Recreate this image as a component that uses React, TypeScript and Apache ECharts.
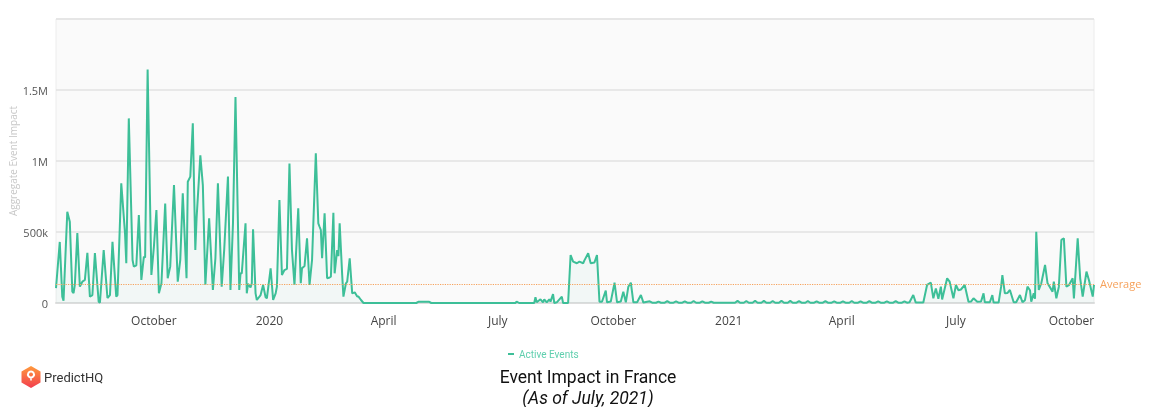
import React, { useEffect, useRef } from "react";
import * as echarts from "echarts";

// [day offset from 2019-07-15, aggregate event impact in thousands]
const busy2019: [number, number][] = [
  [0, 105], [3, 430], [5, 45], [6, 16], [9, 643], [11, 572], [13, 80], [14, 70], [15, 127], [17, 493],
  [19, 115], [21, 150], [23, 162], [25, 354], [27, 45], [29, 56], [31, 352], [34, 9], [35, 2], [38, 373],
  [41, 35], [43, 56], [45, 431], [48, 45], [49, 56], [52, 843], [55, 490], [56, 280], [58, 1300], [61, 303],
  [62, 256], [64, 265], [66, 620], [68, 162], [70, 326], [71, 320], [73, 1645], [76, 197], [78, 396], [80, 655],
  [82, 68], [84, 139], [87, 700], [89, 174], [91, 256], [94, 831], [97, 150], [99, 303], [101, 772], [104, 174],
  [105, 854], [107, 890], [109, 1265], [111, 373], [112, 597], [115, 1040], [117, 830], [119, 127], [122, 597], [125, 92],
  [127, 315], [129, 843], [132, 115], [134, 373], [137, 890], [139, 92], [141, 561], [143, 1450], [146, 92], [147, 209],
  [148, 209], [151, 561], [152, 68], [153, 135], [155, 110], [156, 139], [157, 519], [159, 68], [160, 21], [163, 56],
  [165, 127], [167, 40], [168, 33], [171, 244], [173, 21], [175, 68], [176, 115], [178, 725], [180, 197], [182, 232],
  [184, 240], [186, 983], [188, 373], [190, 127], [193, 667], [195, 139], [196, 244], [198, 260], [200, 455], [202, 127],
  [204, 303], [207, 1054], [209, 561], [210, 537], [211, 514], [212, 315], [214, 632], [216, 174], [218, 180], [219, 185],
  [221, 636], [222, 209], [224, 373], [225, 330], [226, 561], [228, 200], [229, 45], [231, 139], [232, 150], [234, 315],
  [236, 68], [238, 75], [240, 45], [241, 45], [243, 21], [245, 0],
];

const lull2020: [number, number][] = [
  [287, 0], [289, 9], [297, 9], [299, 0], [366, 0], [367, 10], [369, 0], [381, 0], [382, 40], [383, 5],
  [386, 26], [388, 5], [389, 26], [391, 5], [393, 26], [394, 10], [396, 63], [397, 0], [399, 5], [403, 45],
  [404, 0], [408, 0],
];

const autumn2020: [number, number][] = [
  [410, 338], [412, 291], [415, 280], [417, 291], [420, 280], [421, 300], [424, 350], [426, 280], [429, 285], [431, 338],
  [433, 9], [435, 9], [438, 87], [439, 5], [442, 10], [445, 143], [447, 5], [450, 10], [452, 80], [454, 5],
  [456, 115], [458, 143], [460, 5], [463, 5], [466, 56], [468, 3],
];

const winter2021: [number, number][] = [
  [473, 12], [475, 2], [478, 2], [480, 10], [482, 2], [485, 2], [487, 13], [489, 2], [492, 2], [494, 11],
  [496, 2], [499, 2], [501, 12], [503, 2], [506, 2], [508, 14], [510, 2], [513, 2], [515, 12], [517, 2],
  [520, 2], [522, 10], [524, 2], [541, 2], [543, 15], [545, 2], [548, 2], [550, 14], [552, 2], [555, 2],
  [557, 16], [559, 2], [562, 2], [564, 15], [566, 2], [569, 2], [571, 14], [573, 2], [576, 2], [578, 16],
  [580, 2], [583, 2], [585, 15], [587, 2], [590, 2], [592, 13], [594, 2], [597, 2], [599, 14], [601, 2],
  [604, 2], [606, 12], [608, 2], [611, 2], [613, 13], [615, 2], [618, 2], [620, 11], [622, 2], [625, 2],
  [627, 12], [629, 2], [632, 2], [634, 14], [636, 2], [639, 2], [641, 12], [643, 2], [646, 2], [648, 13],
  [650, 2], [653, 2], [655, 11], [657, 2], [660, 2], [662, 12], [664, 2], [667, 2], [669, 13], [671, 2],
  [674, 2], [676, 12], [678, 2],
];

const summer2021: [number, number][] = [
  [680, 5], [683, 56], [685, 3], [691, 3], [694, 127], [697, 143], [699, 33], [701, 103], [703, 30], [705, 115],
  [706, 25], [710, 174], [712, 150], [715, 33], [717, 127], [719, 90], [721, 95], [724, 127], [727, 9], [729, 10],
  [731, 33], [734, 9], [737, 10], [739, 68], [740, 5], [744, 5], [746, 56], [747, 3], [751, 3], [753, 115],
  [754, 197], [756, 68], [758, 70], [760, 92], [763, 5], [765, 5], [768, 56], [770, 5], [772, 20], [774, 115],
  [776, 90], [777, 9], [779, 68], [780, 30], [781, 502], [783, 92], [785, 139], [788, 268], [790, 139], [792, 110],
  [794, 80], [795, 150], [797, 33], [799, 115], [801, 444], [803, 455], [805, 115], [807, 125], [810, 174], [811, 33],
  [814, 455], [816, 174], [818, 45], [821, 221], [823, 160], [826, 45], [827, 127],
];

const AVERAGE = 134000;
const LAST_DAY = 827;
const SERIES_NAME = "Active Events";

const ONE_DAY = 86400000;
const START = new Date(2019, 6, 15).getTime();
const toTime = (d: number) => START + d * ONE_DAY;

const FONT = "'Open Sans', 'Noto Sans', sans-serif";

echarts.graphic.registerShape(
  "phqPin",
  echarts.graphic.extendPath(
    "M5,1 A4,4 0 1 1 4.99,1 Z M5,3 A2,2 0 1 0 5.01,3 Z M4.2,8.6 L5.8,8.6 L5.8,11 L4.2,11 Z",
    {}
  )
);

export default function App() {
  const ref = useRef<HTMLDivElement>(null);

  useEffect(() => {
    if (!ref.current) return;
    const chart = echarts.init(ref.current, undefined, { renderer: "svg" });
    const all = [...busy2019, ...lull2020, ...autumn2020, ...winter2021, ...summer2021];
    const data = all.map(([d, v]) => [toTime(d), v * 1000]);

    chart.setOption({
      animation: false,
      textStyle: { fontFamily: FONT },
      title: {
        text: "Event Impact in France",
        subtext: "(As of July, 2021)",
        left: "center",
        top: 363,
        itemGap: 3,
        textStyle: { fontSize: 17.5, fontWeight: "normal", color: "#111", fontFamily: "Roboto" },
        subtextStyle: { fontSize: 17.5, fontStyle: "italic", color: "#111", fontFamily: "Roboto" },
      },
      legend: {
        data: [SERIES_NAME],
        left: 503,
        top: 344,
        icon: "rect",
        itemWidth: 6,
        itemHeight: 2,
        itemGap: 4,
        textStyle: { color: "#5fcfae", fontSize: 10, fontFamily: "Roboto" },
      },
      grid: {
        left: 56,
        right: 82,
        top: 19,
        height: 284,
        show: true,
        outerBoundsMode: "none",
        containLabel: false,
        backgroundColor: "#fafafa",
        borderColor: "#ececec",
        borderWidth: 1,
      },
      xAxis: {
        type: "time",
        min: toTime(0),
        max: toTime(LAST_DAY),
        splitNumber: 9,
        minInterval: 93 * ONE_DAY,
        maxInterval: 93 * ONE_DAY,
        axisLine: { show: true, lineStyle: { color: "#dddddd", width: 2 } },
        axisTick: { show: false },
        splitLine: { show: false },
        axisLabel: {
          formatter: { year: "{yyyy}", month: "{MMMM}", day: "", hour: "", minute: "", second: "", millisecond: "" },
          color: "#444",
          fontSize: 12,
          margin: 11,
        },
      },
      yAxis: {
        type: "value",
        min: 0,
        max: 2000000,
        interval: 500000,
        name: "Aggregate Event Impact",
        nameLocation: "middle",
        nameGap: 38,
        nameMoveOverlap: false,
        nameTextStyle: { color: "#c8c8c8", fontSize: 10 },
        axisLine: { show: false },
        axisTick: { show: false },
        splitLine: { lineStyle: { color: "#e2e2e2", width: 1.5 } },
        axisLabel: {
          color: "#555",
          fontSize: 11,
          margin: 8,
          formatter: (v: number) =>
            v === 0 ? "0" : v >= 2000000 ? "" : v >= 1000000 ? `${v / 1000000}M` : `${v / 1000}k`,
        },
      },
      series: [
        {
          name: SERIES_NAME,
          type: "line",
          data,
          showSymbol: false,
          symbol: "none",
          lineStyle: { color: "#3dbf98", width: 2 },
          itemStyle: { color: "#3dbf98" },
          areaStyle: { color: "rgba(61,191,152,0.06)" },
          markLine: {
            silent: true,
            symbol: "none",
            data: [{ yAxis: AVERAGE }],
            lineStyle: { type: "dotted", color: "#f6a25c", width: 1.2 },
            label: { show: true, position: "end", formatter: "Average", color: "#f6a25c", fontSize: 11, distance: 6 },
          },
        },
      ],
      graphic: [
        {
          type: "polygon",
          shape: {
            points: [
              [31, 366],
              [40.5, 371.5],
              [40.5, 382.5],
              [31, 388],
              [21.5, 382.5],
              [21.5, 371.5],
            ],
          },
          style: {
            fill: new echarts.graphic.LinearGradient(0, 0, 0, 1, [
              { offset: 0, color: "#ff9a3c" },
              { offset: 1, color: "#f23d4f" },
            ]),
          },
        },
        {
          type: "phqPin",
          x: 26,
          y: 369.5,
          scaleX: 1,
          scaleY: 1,
          style: { fill: "#fff" },
        },
        {
          type: "text",
          x: 44,
          y: 377,
          style: {
            text: "PredictHQ",
            fill: "#333",
            fontSize: 13,
            fontFamily: "Roboto",
            verticalAlign: "middle",
          },
        },
      ],
    });

    return () => chart.dispose();
  }, []);

  return (
    <div
      ref={ref}
      style={{ position: "fixed", left: 0, top: 0, width: 1176, height: 407 }}
    />
  );
}
